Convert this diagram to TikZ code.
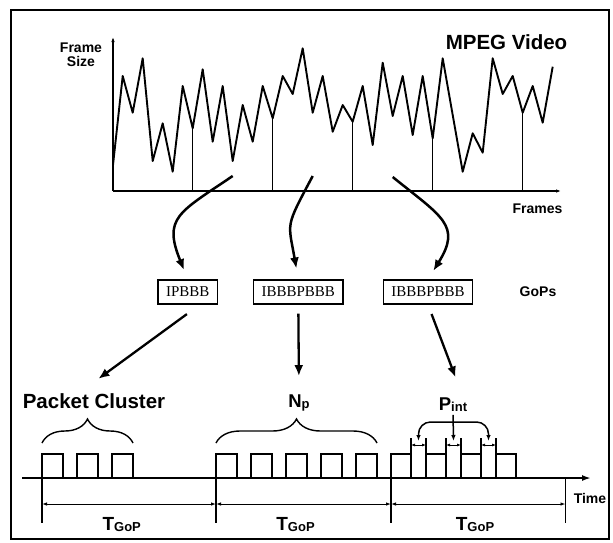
\documentclass[tikz,border=0pt]{standalone}
\usepackage{fontspec}
\setmainfont{Liberation Sans}
\newfontfamily\gopfont{Liberation Serif}
\usetikzlibrary{arrows.meta,decorations.pathreplacing,positioning}

\newcommand{\lowidx}[1]{\raisebox{-1.5pt}{\fontsize{13}{13}\selectfont #1}}

\tikzset{
  lbl/.style     = {inner sep=0pt, font=\bfseries\fontsize{14}{14}\selectfont, align=center},
  biglbl/.style  = {inner sep=0pt, font=\bfseries\fontsize{20.5}{22}\selectfont},
  sym/.style     = {inner sep=0pt, anchor=base, font=\bfseries\fontsize{18.5}{20}\selectfont},
  gop/.style     = {draw, line width=1.3pt, inner xsep=8pt, inner ysep=0pt, minimum height=24pt,
                    font=\gopfont\fontsize{15}{15}\selectfont},
  frameaxis/.style = {line width=1.5pt, -{Latex[length=5pt,width=3.5pt]}},
  vidline/.style = {line width=1.9pt, line join=round},
  gopline/.style = {line width=1pt},
  garrow/.style  = {line width=2.5pt, -{Latex[length=11pt,width=9pt]}},
  sarrow/.style  = {line width=2.3pt, -{Latex[length=11pt,width=9pt]}},
  pkt/.style     = {line width=1.5pt},
  tline/.style   = {line width=2pt, -{Latex[length=9pt,width=6pt]}},
  tick/.style    = {line width=1.2pt},
  dimline/.style = {line width=0.9pt, {Latex[length=5pt,width=3.5pt]}-{Latex[length=5pt,width=3.5pt]}},
  pbrace/.style  = {line width=1.4pt, decorate, decoration={brace, amplitude=24pt}},
  pintarc/.style = {line width=1.5pt, rounded corners=12pt,
                    {Latex[length=6pt,width=4.5pt]}-{Latex[length=6pt,width=4.5pt]}}
}

\begin{document}
\begin{tikzpicture}[x=1pt, y=-1pt]
\useasboundingbox (0,0) rectangle (613,542);
\draw[line width=1.4pt] (11,10) rectangle (609,539);

% frame size over frames
\draw[frameaxis] (113,191) -- (113,37);
\draw[frameaxis] (113,191) -- (561,191);
\draw[vidline] plot coordinates {(113,165) (122.7,76) (132.7,112.7) (142.7,58.3)
  (152.7,161) (162.7,123.3) (172.7,171.7) (182.7,86) (192.7,128.3) (202.7,69.3)
  (212.7,141.7) (222.7,86) (232.7,161) (242.7,105) (252.7,141.7) (262.7,86)
  (272.7,118.3) (282.7,76) (292.7,94) (302.7,48.3) (312.7,112.7) (322.7,76)
  (332.7,131.7) (342.7,105) (352.7,121.7) (362.7,86) (372.7,145) (382.7,62.7)
  (392.7,116) (402.7,76) (412.7,135) (422.7,76) (432.7,138.3) (442.7,58.3)
  (462.7,171.7) (472.7,133.3) (482.7,152.7) (492.7,58.3) (502.7,94) (512.7,76)
  (522.7,112.7) (532.7,86) (542.7,122.7) (552.7,66.7)};

% start of each GoP
\foreach \x/\y in {192.7/128.3, 272.7/118.3, 352.7/121.7, 432.7/138.3, 522.7/112.7}
  \draw[gopline] (\x,191) -- (\x,\y);

\node[lbl] (fsize) at (81,55) {Frame\\Size};
\node[biglbl] (mpeg) at (506.5,42) {MPEG Video};
\node[lbl] (frames) at (537.5,209) {Frames};

% the GoPs
\node[gop] (b1) at (187.8,292) {IPBBB};
\node[gop] (b2) at (298.3,292) {IBBBPBBB};
\node[gop] (b3) at (428,292) {IBBBPBBB};
\node[lbl] (gops) at (538,292) {GoPs};

\coordinate (s1) at (232.7,176);
\coordinate (s2) at (312.7,176);
\coordinate (s3) at (392.7,177);
\draw[garrow, shorten >=10pt] (s1) to[out=214, in=112, looseness=1.5] (b1.north);
\draw[garrow, shorten >=11pt] (s2) to[out=242, in=100, looseness=1.45] (b2.north);
\draw[garrow, shorten >=10pt] (s3) to[out=-39, in=58, looseness=1.5] (b3.north);

% packet level
\node[sym, font=\bfseries\fontsize{20.5}{22}\selectfont] (pc) at (94,408) {Packet Cluster};
\node[sym] (np) at (299,407) {N\lowidx{p}};
\node[sym] (pint) at (453,410) {P\lowidx{int}};

\draw[sarrow, shorten <=16pt, shorten >=24pt] ([xshift=12pt]b1.south) -- ([xshift=-15pt]pc.north);
\draw[sarrow, shorten <=9pt, shorten >=18pt] (b2.south) -- (np.north);
\draw[sarrow, shorten <=10pt, shorten >=21pt] (b3.south) -- ([xshift=10pt]pint.north);

\draw[pbrace] (42,443) -- (133,443);
\draw[pbrace] (216,443) -- (377,443);

% time axis and packets
\coordinate (t0) at (22,478);
\coordinate (t1) at (591,478);
\draw[tline] (t0) -- (t1);
\node[lbl] (time) at (590,498) {Time};

\foreach \x in {42,77,112,216,251,286,321,356}
  \draw[pkt] (\x,478) rectangle ++(21,-24);
\foreach \x in {391,426,461,496}
  \draw[pkt] (\x,478) rectangle ++(20,-24);
\foreach \x/\n in {411/1,446/2,481/3} {
  \draw[pkt] (\x,478) -- (\x,438) (\x+15,478) -- (\x+15,438);
  \draw[line width=0.8pt, {Latex[length=4pt,width=3pt]}-{Latex[length=4pt,width=3pt]}] (\x,445) -- (\x+15,445);
  \coordinate (pk\n) at (\x+7.5,441);
}
\coordinate (ptop) at (454,422);
\draw[pintarc] (pk1) |- (ptop) -| (pk3);
\draw[line width=1.5pt, -{Latex[length=6pt,width=4.5pt]}, shorten <=3pt] (pint.south) -- (pk2);

% GoP periods
\foreach \x in {42,216,391,565.5}
  \draw[tick] (\x,478) -- (\x,523);
\foreach \a/\b in {42/216,216/391,391/565.5}
  \draw[dimline] (\a,504) -- (\b,504);
\node[sym, font=\bfseries\fontsize{19}{20}\selectfont] (tg1) at (121.7,530) {T\lowidx{GoP}};
\node[sym, font=\bfseries\fontsize{19}{20}\selectfont] (tg2) at (295.5,530) {T\lowidx{GoP}};
\node[sym, font=\bfseries\fontsize{19}{20}\selectfont] (tg3) at (475,530) {T\lowidx{GoP}};
\end{tikzpicture}
\end{document}
